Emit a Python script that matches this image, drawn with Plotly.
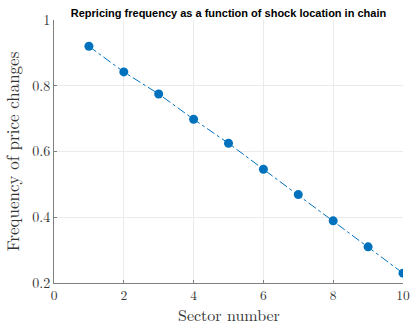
import plotly.graph_objects as go

sectors = [1, 2, 3, 4, 5, 6, 7, 8, 9, 10]
freq = [0.920, 0.842, 0.775, 0.698, 0.625, 0.546, 0.469, 0.389, 0.310, 0.230]

title = "Repricing frequency as a function of shock location in chain"
x_title = "Sector number"
y_title = "Frequency of price changes"
x_ticks = [0, 2, 4, 6, 8, 10]
y_ticks = [0.2, 0.4, 0.6, 0.8, 1]

blue = "#0072BD"
serif = "Latin Modern Roman, CMU Serif, Liberation Serif, DejaVu Serif, serif"

W, H = 412, 327
L, R, T, B = 54, 9, 20, 44
plot_h = H - T - B

fig = go.Figure()
fig.add_trace(go.Scatter(
    x=sectors, y=freq, mode="lines+markers",
    line=dict(color=blue, width=1, dash="dashdot"),
    marker=dict(color=blue, size=9),
    showlegend=False,
))

fig.add_annotation(
    text=x_title, xref="paper", yref="paper", x=0.5, y=-(H - (H - B)) / plot_h,
    xanchor="center", yanchor="bottom", showarrow=False, borderpad=0,
    font=dict(family=serif, size=16, color="#333333"),
)

fig.update_layout(
    width=W, height=H,
    margin=dict(l=L, r=R, t=T, b=B),
    paper_bgcolor="white", plot_bgcolor="white",
    title=dict(text="<b>" + title + "</b>", x=0.5, xref="paper", xanchor="center",
               y=1 - 13 / H, yref="container", yanchor="middle",
               font=dict(family="Liberation Sans, Arial, sans-serif", size=11, color="black")),
    xaxis=dict(
        range=[0, 10], tickvals=x_ticks, ticktext=[str(v) for v in x_ticks],
        automargin=False,
        showgrid=True, gridcolor="#ebebeb", gridwidth=1,
        showline=True, linecolor="#808080", linewidth=1,
        ticks="inside", ticklen=3, tickcolor="#808080",
        ticklabelstandoff=0,
        zeroline=False,
        tickfont=dict(family=serif, size=13.5, color="#333333"),
    ),
    yaxis=dict(
        range=[0.2, 1], tickvals=y_ticks, ticktext=["0.2", "0.4", "0.6", "0.8", "1"],
        automargin=False,
        showgrid=True, gridcolor="#ebebeb", gridwidth=1,
        showline=True, linecolor="#808080", linewidth=1,
        ticks="inside", ticklen=3, tickcolor="#808080",
        zeroline=False,
        tickfont=dict(family=serif, size=14, color="#333333"),
        title=dict(text=y_title, font=dict(family=serif, size=17, color="#333333")),
    ),
)

fig.write_html("out.html")
